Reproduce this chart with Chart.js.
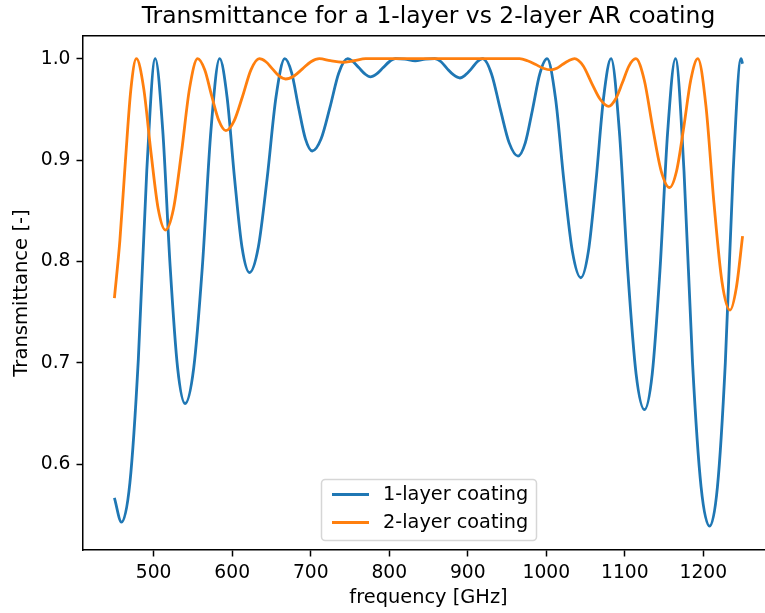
<!DOCTYPE html>
<html><head><meta charset="utf-8">
<script src="https://cdn.jsdelivr.net/npm/chart.js@4/dist/chart.umd.min.js"></script>
<style>html,body{margin:0;padding:0;overflow:hidden;background:#fff;width:765px;height:613px}canvas{display:block}</style>
</head><body>
<canvas id="c" width="775" height="613" style="width:775px;height:613px"></canvas>
<script>
const chartTitle = 'Transmittance for a 1-layer vs 2-layer AR coating';
const xAxisLabel = 'frequency [GHz]';
const yAxisLabel = 'Transmittance [-]';
const seriesNames = ['1-layer coating', '2-layer coating'];
const seriesColors = ['#1f77b4', '#ff7f0e'];
const xTickValues = [500, 600, 700, 800, 900, 1000, 1100, 1200];
const yTickValues = [0.6, 0.7, 0.8, 0.9, 1.0];

// 1-layer coating
const freq1 = [450,459,469.75,480.5,491.25,502,511.5,521,530.5,540,551,562,573,584,593.5,603,612.5,622,633.25,644.5,655.75,667,675.75,684.5,693.25,702,713.25,724.5,735.75,747,754,761.5,769,776,784,792,800,808,820,833,846,858,866,874,882,890,897,904.5,912,919,930.25,941.5,952.75,964,973.25,982.5,991.75,1001,1011.75,1022.5,1033.25,1044,1053.6,1063.25,1072.9,1082.5,1093.1,1103.75,1114.4,1125,1134.9,1144.75,1154.6,1164.5,1175.4,1186.25,1197.1,1208,1218,1228,1238,1248,1250];
const trans1 = [0.567,0.543,0.582,0.704,0.890,1.0,0.930,0.795,0.695,0.660,0.695,0.795,0.930,1.0,0.962,0.882,0.814,0.789,0.814,0.882,0.962,1.0,0.986,0.952,0.921,0.909,0.921,0.952,0.986,1.0,0.997,0.991,0.985,0.982,0.985,0.991,0.997,1.0,0.9995,0.998,0.9995,1.0,0.997,0.990,0.984,0.981,0.984,0.990,0.997,1.0,0.985,0.950,0.917,0.904,0.917,0.950,0.985,1.0,0.961,0.879,0.810,0.784,0.810,0.879,0.961,1.0,0.928,0.791,0.689,0.654,0.689,0.791,0.928,1.0,0.889,0.700,0.578,0.539,0.578,0.700,0.889,1.0,0.995];

// 2-layer coating
const freq2 = [450,457,464,471,478,487.25,496.5,505.75,515,525.25,535.5,545.75,556,565,574,583,592,602.6,613.25,623.9,634.5,642.9,651.25,659.6,668,678.75,689.5,700.25,711,725,740,755,770,800,830,860,890,920,950,966,976,986,996,1006,1013.5,1021,1028.5,1036,1046.9,1057.75,1068.6,1079.5,1088.1,1096.75,1105.4,1114,1124.75,1135.5,1146.25,1157,1166,1175,1184,1193,1203.25,1213.5,1223.75,1234,1242,1250];
const trans2 = [0.764,0.821,0.899,0.970,1.0,0.971,0.908,0.852,0.831,0.852,0.908,0.971,1.0,0.989,0.963,0.939,0.929,0.939,0.963,0.989,1.0,0.997,0.990,0.983,0.980,0.983,0.990,0.997,1.0,0.998,0.9965,0.998,1.0,1.0,1.0,1.0,1.0,1.0,1.0,1.0,0.998,0.9945,0.9906,0.989,0.9906,0.9945,0.998,1.0,0.993,0.976,0.960,0.953,0.960,0.976,0.993,1.0,0.979,0.932,0.8895,0.873,0.8895,0.932,0.979,1.0,0.954,0.858,0.780,0.752,0.774,0.825];

const FONT = 'DejaVu Sans';
const toPts = (xs, ys) => xs.map((x, i) => ({x: x, y: ys[i]}));

const legendPlugin = {
  id: 'mplLegend',
  afterDatasetsDraw(chart) {
    const ctx = chart.ctx;
    const x0 = 321.5, y0 = 479.5, w = 215, h = 61, r = 3.7;
    ctx.save();
    ctx.beginPath();
    ctx.moveTo(x0 + r, y0);
    ctx.arcTo(x0 + w, y0, x0 + w, y0 + h, r);
    ctx.arcTo(x0 + w, y0 + h, x0, y0 + h, r);
    ctx.arcTo(x0, y0 + h, x0, y0, r);
    ctx.arcTo(x0, y0, x0 + w, y0, r);
    ctx.closePath();
    ctx.fillStyle = 'rgba(255,255,255,0.8)';
    ctx.fill();
    ctx.strokeStyle = 'rgba(204,204,204,0.8)';
    ctx.lineWidth = 1.5;
    ctx.stroke();
    chart.data.datasets.forEach((ds, i) => {
      const yy = 494.5 + i * 28;
      ctx.beginPath();
      ctx.moveTo(332, yy);
      ctx.lineTo(369, yy);
      ctx.strokeStyle = ds.borderColor;
      ctx.lineWidth = 2.8;
      ctx.lineCap = 'butt';
      ctx.stroke();
      ctx.fillStyle = '#000';
      ctx.font = '19.3px "' + FONT + '"';
      ctx.textBaseline = 'middle';
      ctx.textAlign = 'left';
      ctx.fillText(ds.label, 383, yy);
    });
    ctx.restore();
  }
};

const tickGrid = {display: true, drawOnChartArea: false, drawTicks: true, tickLength: 6.5, tickWidth: 1.5, tickColor: '#000'};
const axisBorder = {display: true, color: '#000', width: 1.5};

new Chart(document.getElementById('c'), {
  type: 'line',
  data: {
    datasets: [
      {label: seriesNames[0], data: toPts(freq1, trans1), borderColor: seriesColors[0], backgroundColor: seriesColors[0], borderWidth: 2.8, pointRadius: 0, cubicInterpolationMode: 'monotone', fill: false, order: 2},
      {label: seriesNames[1], data: toPts(freq2, trans2), borderColor: seriesColors[1], backgroundColor: seriesColors[1], borderWidth: 2.8, pointRadius: 0, cubicInterpolationMode: 'monotone', fill: false, order: 1}
    ]
  },
  options: {
    responsive: false,
    devicePixelRatio: 1,
    animation: false,
    layout: {padding: {left: 0, right: 1, top: 0, bottom: 0}},
    plugins: {legend: {display: false}, tooltip: {enabled: false}, title: {display: false}},
    scales: {
      x: {
        type: 'linear', position: 'bottom', min: 410, max: 1290,
        afterBuildTicks: (s) => { s.ticks = xTickValues.map(v => ({value: v})); },
        afterFit: (s) => { s.height = 63; },
        ticks: {color: '#000', font: {family: FONT, size: 18.7}, padding: 5, maxRotation: 0, autoSkip: false, callback: (v) => String(v)},
        grid: tickGrid, border: axisBorder,
        title: {display: true, text: xAxisLabel, color: '#000', font: {family: FONT, size: 19.4}, padding: {top: 0, bottom: 3}}
      },
      x2: {
        type: 'linear', position: 'top', min: 410, max: 1290,
        afterFit: (s) => { s.height = 36; },
        ticks: {display: false}, grid: {display: false}, border: axisBorder,
        title: {display: true, text: chartTitle, color: '#000', font: {family: FONT, size: 23.4}, padding: {top: 3, bottom: 0}}
      },
      y: {
        type: 'linear', position: 'left', min: 0.5155, max: 1.0224,
        afterBuildTicks: (s) => { s.ticks = yTickValues.map(v => ({value: v})); },
        afterFit: (s) => { s.width = 83; },
        ticks: {color: '#000', font: {family: FONT, size: 18.7}, padding: 6, autoSkip: false, callback: (v) => v.toFixed(1)},
        grid: tickGrid, border: axisBorder,
        title: {display: true, text: yAxisLabel, color: '#000', font: {family: FONT, size: 19.6}, padding: {top: 10, bottom: 0}}
      }
    }
  },
  plugins: [legendPlugin]
});
</script>
</body></html>
